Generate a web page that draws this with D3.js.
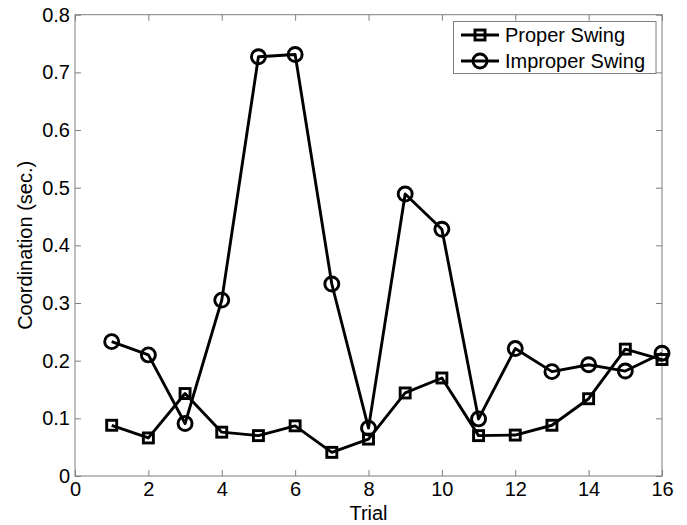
<!DOCTYPE html>
<html><head><meta charset="utf-8">
<script src="https://cdn.jsdelivr.net/npm/d3@7"></script>
<style>body{margin:0;background:#fff}text{font-family:Arial,"Liberation Sans",sans-serif}</style>
</head><body><svg id="c" width="687" height="525"></svg>
<script>
const trials = [1,2,3,4,5,6,7,8,9,10,11,12,13,14,15,16];
const proper = [0.088,0.066,0.143,0.076,0.070,0.087,0.041,0.064,0.144,0.170,0.070,0.071,0.088,0.134,0.220,0.202];
const improper = [0.233,0.210,0.091,0.305,0.727,0.731,0.333,0.083,0.489,0.428,0.099,0.221,0.181,0.193,0.182,0.213];
const xTicks = [0,2,4,6,8,10,12,14,16];
const yTicks = [0,0.1,0.2,0.3,0.4,0.5,0.6,0.7,0.8];
const seriesNames = ["Proper Swing","Improper Swing"];

const svg = d3.select("#c");
const L=75,R=662,T=14.7,B=476;
const x = d3.scaleLinear().domain([0,16]).range([L,R]);
const y = d3.scaleLinear().domain([0,0.8]).range([B,T]);
const axc = "#7f7f7f";
const fs = 20;

svg.append("rect").attr("x",L).attr("y",T).attr("width",R-L).attr("height",B-T)
  .attr("fill","none").attr("stroke",axc).attr("stroke-width",1);

const tl = 6;
const xb = svg.append("g").attr("transform",`translate(0,${B})`)
  .call(d3.axisBottom(x).tickValues(xTicks).tickSize(-tl).tickPadding(6).tickFormat(d3.format("d")));
const xt = svg.append("g").attr("transform",`translate(0,${T})`)
  .call(d3.axisTop(x).tickValues(xTicks).tickSize(-tl).tickFormat(""));
const yl = svg.append("g").attr("transform",`translate(${L},0)`)
  .call(d3.axisLeft(y).tickValues(yTicks).tickSize(-tl).tickPadding(5).tickFormat(d=>d===0?"0":d3.format(".1f")(d)));
const yr = svg.append("g").attr("transform",`translate(${R},0)`)
  .call(d3.axisRight(y).tickValues(yTicks).tickSize(-tl).tickFormat(""));
[xb,xt,yl,yr].forEach(g=>{
  g.select(".domain").remove();
  g.selectAll(".tick line").attr("stroke",axc);
  g.selectAll("text").attr("fill","#000").style("font-size",fs+"px").style("font-family","Arial, 'Liberation Sans', sans-serif");
});

svg.append("text").attr("x",(L+R)/2).attr("y",520).attr("text-anchor","middle")
  .style("font-size",fs+"px").text("Trial");
svg.append("text").attr("transform",`translate(32,${(T+B)/2}) rotate(-90)`).attr("text-anchor","middle")
  .style("font-size",fs+"px").text("Coordination (sec.)");

const line = d3.line().x((d,i)=>x(trials[i])).y(d=>y(d));
const lw = 2.9;
svg.append("path").datum(proper).attr("d",line).attr("fill","none").attr("stroke","#000").attr("stroke-width",lw).attr("stroke-linejoin","round");
svg.append("path").datum(improper).attr("d",line).attr("fill","none").attr("stroke","#000").attr("stroke-width",lw).attr("stroke-linejoin","round");

const sq = 10, cr = 7;
svg.append("g").selectAll("rect").data(proper).join("rect")
  .attr("x",(d,i)=>x(trials[i])-sq/2).attr("y",d=>y(d)-sq/2).attr("width",sq).attr("height",sq)
  .attr("fill","none").attr("stroke","#000").attr("stroke-width",lw);
svg.append("g").selectAll("circle").data(improper).join("circle")
  .attr("cx",(d,i)=>x(trials[i])).attr("cy",d=>y(d)).attr("r",cr)
  .attr("fill","none").attr("stroke","#000").attr("stroke-width",lw);

const lg = svg.append("g");
lg.append("rect").attr("x",453.5).attr("y",21.5).attr("width",202.5).attr("height",52)
  .attr("fill","#fff").attr("stroke",axc).attr("stroke-width",1);
const rows=[35,61];
seriesNames.forEach((n,k)=>{
  const cy=rows[k];
  lg.append("line").attr("x1",461).attr("x2",499).attr("y1",cy).attr("y2",cy).attr("stroke","#000").attr("stroke-width",lw);
  if(k===0) lg.append("rect").attr("x",480-sq/2).attr("y",cy-sq/2).attr("width",sq).attr("height",sq).attr("fill","none").attr("stroke","#000").attr("stroke-width",lw);
  else lg.append("circle").attr("cx",480).attr("cy",cy).attr("r",cr).attr("fill","none").attr("stroke","#000").attr("stroke-width",lw);
  lg.append("text").attr("x",505).attr("y",cy).attr("dy","0.35em").style("font-size",fs+"px").text(n);
});
</script></body></html>
